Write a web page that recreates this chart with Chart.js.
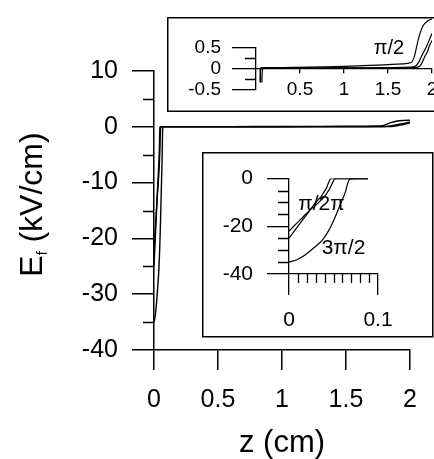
<!DOCTYPE html>
<html><head><meta charset="utf-8">
<script src="https://cdn.jsdelivr.net/npm/chart.js@4/dist/chart.umd.min.js"></script>
<style>
html,body{margin:0;padding:0;background:#fff;overflow:hidden;width:434px;height:459px;position:relative;}
canvas{position:absolute;}
</style></head><body>
<canvas id="main" width="434" height="459" style="left:0;top:0"></canvas>
<canvas id="top" width="290" height="95" style="left:167px;top:17px"></canvas>
<canvas id="low" width="232" height="186" style="left:202px;top:152px"></canvas>
<script>
// ---------------- data ----------------
const curveNames = ['π/2', 'π', '3π/2'];
const zHalfPi  = [0, 0.008, 0.016, 0.024, 0.032, 0.040, 0.046, 0.052, 0.060, 0.10, 0.30, 0.60, 1.00, 1.30, 1.60, 1.72, 1.77, 1.80, 1.85, 1.90, 1.95, 2.00];
const eHalfPi  = [-22, -19, -16, -13, -10.5, -7.5, -4, 0, 0.02, 0.03, 0.03, 0.04, 0.06, 0.08, 0.11, 0.13, 0.16, 0.30, 0.75, 1.04, 1.15, 1.20];
const zPi      = [0, 0.008, 0.016, 0.024, 0.030, 0.036, 0.042, 0.047, 0.055, 0.10, 0.50, 1.00, 1.50, 1.75, 1.81, 1.85, 1.88, 1.91, 1.94, 1.97, 2.00];
const ePi      = [-25, -21, -17, -13, -10, -7.5, -4, 0, 0.02, 0.02, 0.02, 0.02, 0.03, 0.04, 0.06, 0.16, 0.30, 0.42, 0.55, 0.70, 0.85];
const z3HalfPi = [0, 0.009, 0.018, 0.028, 0.037, 0.045, 0.052, 0.058, 0.063, 0.066, 0.068, 0.075, 0.10, 0.50, 1.00, 1.50, 1.80, 1.86, 1.89, 1.92, 1.95, 1.97, 2.00];
const e3HalfPi = [-35, -34, -32, -29, -26, -21.5, -16, -10.5, -6, -2, -0.35, 0, 0.02, 0.02, 0.02, 0.02, 0.03, 0.06, 0.16, 0.30, 0.42, 0.55, 0.68];

// tick values / labels
const mainXTicks = [0, 0.5, 1, 1.5, 2];
const mainXLabels = ['0', '0.5', '1', '1.5', '2'];
const mainYTicks = [10, 0, -10, -20, -30, -40];
const mainYLabels = ['10', '0', '-10', '-20', '-30', '-40'];
const mainYMinor = [5, -5, -15, -25, -35];

const topXTicks = [0.5, 1, 1.5, 2];
const topXLabels = ['0.5', '1', '1.5', '2'];
const topYTicks = [0.5, 0, -0.5];
const topYLabels = ['0.5', '0', '-0.5'];
const topYMinor = [0.25, -0.25];

const lowXTicks = [0, 0.1];
const lowXLabels = ['0', '0.1'];
const lowXMinor = [0.01, 0.02, 0.03, 0.04, 0.05, 0.06, 0.07, 0.08, 0.09];
const lowYTicks = [0, -20, -40];
const lowYLabels = ['0', '-20', '-40'];
const lowYMinor = [-5, -10, -15, -25, -30, -35];

// ---------------- helpers ----------------
const FAM = "'Liberation Sans', Arial, sans-serif";
const curves = [[zHalfPi, eHalfPi], [zPi, ePi], [z3HalfPi, e3HalfPi]];
function makeDatasets(width, clip) {
  return curves.map((c, k) => ({
    label: curveNames[k],
    data: c[0].map((z, i) => ({x: z, y: c[1][i]})),
    showLine: true, borderColor: '#000', borderWidth: width,
    pointRadius: 0, tension: 0.3, fill: false,
    clip: clip
  }));
}
function fixedTicks(vals) { return s => { s.ticks = vals.map(v => ({value: v})); }; }
function axis(o) {
  return {
    type: 'linear', position: o.position, min: o.min, max: o.max,
    afterBuildTicks: fixedTicks(o.ticks),
    afterFit: o.fit,
    ticks: {autoSkip: false, maxRotation: 0, color: '#000', padding: o.pad,
      font: {family: FAM, size: o.size}, callback: (v, i) => o.labels[i]},
    grid: {display: true, drawOnChartArea: false, drawTicks: true, tickLength: o.tl, color: '#000', lineWidth: o.lw},
    border: {display: true, color: '#000', width: o.lw},
    title: o.title || {display: false}
  };
}
const minorTicks = {
  id: 'minorTicks',
  afterDraw(chart, args, opts) {
    const ctx = chart.ctx, a = chart.chartArea;
    ctx.save(); ctx.strokeStyle = '#000'; ctx.lineWidth = opts.lw || 1.5;
    ctx.beginPath();
    (opts.y || []).forEach(v => { const p = Math.round(chart.scales.y.getPixelForValue(v)) + 0.5; ctx.moveTo(a.left - opts.ylen, p); ctx.lineTo(a.left, p); });
    (opts.x || []).forEach(v => { const p = Math.round(chart.scales.x.getPixelForValue(v)) + 0.5; ctx.moveTo(p, a.bottom); ctx.lineTo(p, a.bottom + opts.xlen); });
    ctx.stroke(); ctx.restore();
  }
};
const annot = {
  id: 'annot',
  afterDatasetsDraw(chart, args, opts) {
    const ctx = chart.ctx;
    ctx.save(); ctx.fillStyle = '#000'; ctx.textAlign = 'center'; ctx.textBaseline = 'middle';
    (opts.items || []).forEach(it => {
      ctx.font = it.size + 'px ' + FAM;
      ctx.fillText(it.text, chart.scales.x.getPixelForValue(it.z), chart.scales.y.getPixelForValue(it.e));
    });
    ctx.restore();
  }
};
const boxBg = {
  id: 'boxBg',
  beforeDraw(chart, args, opts) {
    const ctx = chart.ctx;
    ctx.save(); ctx.fillStyle = '#fff'; ctx.fillRect(0, 0, chart.width, chart.height);
    ctx.strokeStyle = '#000'; ctx.lineWidth = 1.5;
    ctx.strokeRect(0.75, 0.75, opts.w, opts.h);
    ctx.restore();
  }
};
const yTitle = {
  id: 'yTitle',
  afterDraw(chart) {
    const ctx = chart.ctx, a = chart.chartArea;
    ctx.save();
    ctx.translate(30, (a.top + a.bottom) / 2 - 6);
    ctx.rotate(-Math.PI / 2);
    ctx.fillStyle = '#000'; ctx.textAlign = 'left'; ctx.textBaseline = 'alphabetic';
    const big = '32px ' + FAM, small = '14px ' + FAM;
    ctx.font = big; const wE = ctx.measureText('E').width, wR = ctx.measureText(' (kV/cm)').width;
    ctx.font = small; const wf = ctx.measureText('f').width;
    let x = -(wE + wf + wR) / 2; const base = 12;
    ctx.font = big; ctx.fillText('E', x, base); x += wE;
    ctx.font = small; ctx.fillText('f', x, base + 5); x += wf;
    ctx.font = big; ctx.fillText(' (kV/cm)', x, base);
    ctx.restore();
  }
};
const common = {responsive: false, animation: false, devicePixelRatio: 1, events: []};

// ---------------- main chart ----------------
new Chart(document.getElementById('main'), {
  type: 'scatter',
  data: {datasets: makeDatasets(1.4, undefined)},
  options: Object.assign({}, common, {
    layout: {padding: {top: 71, right: 24, left: 0, bottom: 0}},
    plugins: {legend: {display: false}, tooltip: {enabled: false},
      minorTicks: {y: mainYMinor, ylen: 11, lw: 1.5}},
    scales: {
      x: axis({position: 'bottom', min: 0, max: 2, ticks: mainXTicks, labels: mainXLabels, size: 25, pad: 15, tl: 20, lw: 1.5,
        fit: s => { s.height = 109; },
        title: {display: true, text: 'z (cm)', color: '#000', font: {family: FAM, size: 31, lineHeight: 1}, padding: {top: 0, bottom: 0}}}),
      y: axis({position: 'left', min: -40, max: 10, ticks: mainYTicks, labels: mainYLabels, size: 25, pad: 14, tl: 22, lw: 1.5,
        fit: s => { s.width = 154; }})
    }
  }),
  plugins: [minorTicks, yTitle]
});

// ---------------- top inset ----------------
new Chart(document.getElementById('top'), {
  type: 'scatter',
  data: {datasets: makeDatasets(1.2, {left: 0, right: 0, top: 40, bottom: -7})},
  options: Object.assign({}, common, {
    layout: {padding: {top: 31, right: 25, left: 0, bottom: 17}},
    plugins: {legend: {display: false}, tooltip: {enabled: false},
      boxBg: {w: 300, h: 93.5},
      minorTicks: {y: topYMinor, ylen: 11, lw: 1.3},
      annot: {items: [{text: 'π/2', z: 1.51, e: 0.49, size: 20}]}},
    scales: {
      x: axis({position: {y: 0}, min: 0, max: 2, ticks: topXTicks, labels: topXLabels, size: 19, pad: 6, tl: 4, lw: 1.3}),
      y: axis({position: 'left', min: -0.5, max: 0.5, ticks: topYTicks, labels: topYLabels, size: 19, pad: 11, tl: 24, lw: 1.3,
        fit: s => { s.width = 89; }})
    }
  }),
  plugins: [boxBg, minorTicks, annot]
});

// ---------------- lower inset ----------------
new Chart(document.getElementById('low'), {
  type: 'scatter',
  data: {datasets: makeDatasets(1.2, {left: 0, right: -10, top: 0, bottom: 0})},
  options: Object.assign({}, common, {
    layout: {padding: {top: 17, right: 56, left: 0, bottom: 0}},
    plugins: {legend: {display: false}, tooltip: {enabled: false},
      boxBg: {w: 230, h: 184},
      minorTicks: {x: lowXMinor, xlen: 9, y: lowYMinor, ylen: 11, lw: 1.3},
      annot: {items: [{text: 'π/2π', z: 0.0365, e: -10.7, size: 21}, {text: '3π/2', z: 0.0612, e: -29, size: 21}]}},
    scales: {
      x: axis({position: 'bottom', min: 0, max: 0.1, ticks: lowXTicks, labels: lowXLabels, size: 21, pad: 13, tl: 21, lw: 1.3,
        fit: s => { s.height = 64; }}),
      y: axis({position: 'left', min: -40, max: 0, ticks: lowYTicks, labels: lowYLabels, size: 21, pad: 14, tl: 22, lw: 1.3,
        fit: s => { s.width = 87; }})
    }
  }),
  plugins: [boxBg, minorTicks, annot]
});
</script>
</body></html>
